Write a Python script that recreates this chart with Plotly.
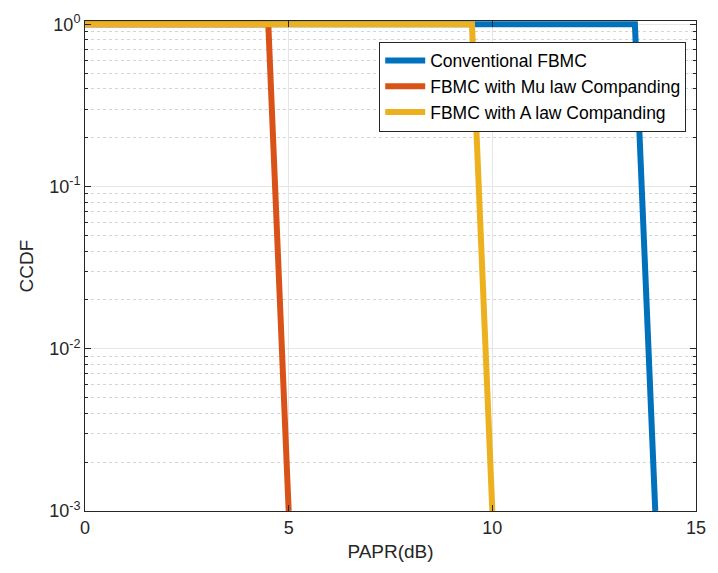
import plotly.graph_objects as go

# Data
papr_conv = [0, 13.5, 14.0]
ccdf_conv = [1, 1, 1e-3]
papr_mu = [0, 4.5, 5.0]
ccdf_mu = [1, 1, 1e-3]
papr_a = [0, 9.5, 10.0]
ccdf_a = [1, 1, 1e-3]

names = ["Conventional FBMC", "FBMC with Mu law Companding", "FBMC with A law Companding"]
colors = ["#0072BD", "#D95319", "#EDB120"]

xticks = [0, 5, 10, 15]
yticks = [1e-3, 1e-2, 1e-1, 1e0]
ytext = ["10<sup>-3</sup>", "10<sup>-2</sup>", "10<sup>-1</sup>", "10<sup>0</sup>"]

fig = go.Figure()
for x, y, n, c in zip([papr_conv, papr_mu, papr_a], [ccdf_conv, ccdf_mu, ccdf_a], names, colors):
    fig.add_trace(go.Scatter(x=x, y=y, mode="lines", name=n,
                             line=dict(color=c, width=6)))

axis_common = dict(
    showline=True, linecolor="#262626", linewidth=1, mirror="ticks",
    ticks="inside", ticklen=6, tickcolor="#262626",
    gridcolor="#e6e6e6", gridwidth=1, zeroline=False,
    tickfont=dict(size=18, color="#262626"),
)

fig.update_xaxes(range=[0, 15], tickvals=xticks, **axis_common,
                 title=dict(text="PAPR(dB)", font=dict(size=19, color="#262626"), standoff=8))
fig.update_yaxes(type="log", range=[-3, 0.02], tickvals=yticks, ticktext=ytext, **axis_common,
                 minor=dict(dtick="D1", ticks="inside", ticklen=3, tickcolor="#262626", showgrid=True,
                            gridcolor="#d4d4d4", griddash="dot", gridwidth=1),
                 title=dict(text="CCDF", font=dict(size=19, color="#262626"), standoff=10))

fig.update_layout(
    width=718, height=573,
    margin=dict(l=85, r=13, t=17, b=62),
    paper_bgcolor="white", plot_bgcolor="white",
    font=dict(family="Liberation Sans, Arial, sans-serif", color="#262626"),
    legend=dict(x=0.984, y=0.958, xanchor="right", yanchor="top",
                bgcolor="white", bordercolor="#262626", borderwidth=1,
                font=dict(size=17.5, color="#000000"), itemwidth=40,
                tracegroupgap=0),
    showlegend=True,
)

fig.write_html("out.html")
